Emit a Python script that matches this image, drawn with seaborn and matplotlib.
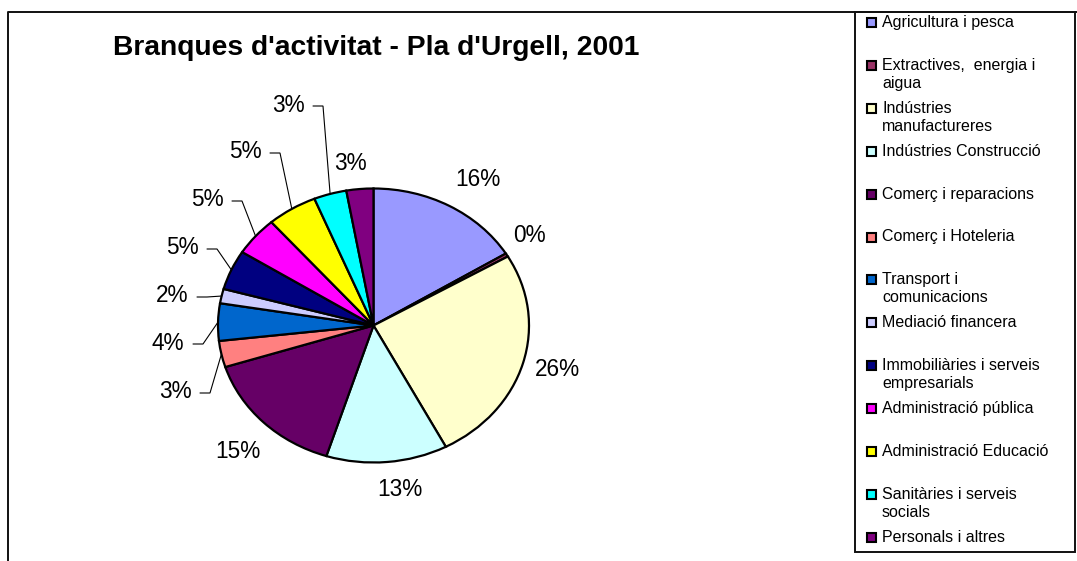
import matplotlib
matplotlib.use("Agg")
import matplotlib.pyplot as plt
import seaborn as sns
import numpy as np
from matplotlib.patches import Rectangle

# ---------------- data ----------------
title = "Branques d'activitat - Pla d'Urgell, 2001"
categories = [
    "Agricultura i pesca",
    "Extractives,  energia i\naigua",
    "Indústries\nmanufactureres",
    "Indústries Construcció",
    "Comerç i reparacions",
    "Comerç i Hoteleria",
    "Transport i\ncomunicacions",
    "Mediació financera",
    "Immobiliàries i serveis\nempresarials",
    "Administració pública",
    "Administració Educació",
    "Sanitàries i serveis\nsocials",
    "Personals i altres",
]
shares = [16.2, 0.4, 25.7, 12.6, 15.2, 3.1, 4.4, 1.7, 4.7, 4.6, 5.2, 3.4, 2.8]
colors = ["#9999FF", "#993366", "#FFFFCC", "#CCFFFF", "#660066", "#FF8080",
          "#0066CC", "#CCCCFF", "#000080", "#FF00FF", "#FFFF00", "#00FFFF", "#800080"]

# ---------------- layout (pixels) ----------------
W, H = 1077, 561
CX, CY, RX, RY = 373.5, 325.5, 155.5, 137.0
label_pos = [(478, 180), (529, 236), (557, 370), (400, 490), (238, 452),
             (175, 392), (168, 343), (172, 296), (182, 248), (207, 200),
             (245, 152), (288, 105), (350, 163)]
has_leader = [False, False, False, False, False, True, True, True, True,
              True, True, True, False]

sns.set_theme(style="white")
plt.rcParams["font.family"] = ["Liberation Sans", "DejaVu Sans"]

fig = plt.figure(figsize=(W / 100, H / 100), dpi=100)
ax = fig.add_axes([0, 0, 1, 1])


def px(x, y):
    return ((x - CX) / RX, (CY - y) / RY)


palette = sns.color_palette(colors)
wedges, _ = ax.pie(shares, colors=palette, startangle=90, counterclock=False,
                   wedgeprops=dict(edgecolor="black", linewidth=1.6))
ax.set_aspect("auto")
ax.set_xlim(px(0, 0)[0], px(W, 0)[0])
ax.set_ylim(px(0, H)[1], px(0, 0)[1])
ax.axis("off")

# percentage labels
for w, v, (lx, ly), lead in zip(wedges, shares, label_pos, has_leader):
    tx, ty = px(lx, ly)
    ax.text(tx, ty, f"{int(round(v))}%", ha="center", va="center",
            fontsize=16.3, color="black")
    if lead:
        th = np.deg2rad((w.theta1 + w.theta2) / 2)
        axp, ayp = np.cos(th), np.sin(th)
        s = px(lx + 25, ly + 1)
        e = px(lx + 35, ly + 1)
        ax.plot([s[0], e[0], axp], [s[1], e[1], ayp], color="black",
                lw=0.8, solid_joinstyle="miter", clip_on=False)

# title
tx, ty = px(376, 48)
ax.text(tx, ty, title, ha="center", va="center", fontsize=20.3,
        fontweight="bold", color="black")

# outer frame
a, b = px(8, 561), px(8, 12)
c = px(W, 12)
ax.plot([a[0], b[0], c[0]], [a[1], b[1], c[1]], color="#111111", lw=1.4,
        clip_on=False)

# legend box
l0 = px(855, 552)
l1 = px(1075, 12)
ax.add_patch(Rectangle(l0, l1[0] - l0[0], l1[1] - l0[1], fill=False,
                       edgecolor="#111111", lw=1.4, clip_on=False))
for i, (lab, col) in enumerate(zip(categories, palette)):
    yc = 22.5 + 42.9 * i
    r0 = px(866.5, yc + 4.5)
    ax.add_patch(Rectangle(r0, 9 / RX, 9 / RY, facecolor=col,
                           edgecolor="black", lw=1.5, clip_on=False))
    t = px(882, yc - 7.5)
    ax.text(t[0], t[1], lab, ha="left", va="top", fontsize=11.5,
            linespacing=1.25, color="black")

fig.savefig("out.png", dpi=100)
